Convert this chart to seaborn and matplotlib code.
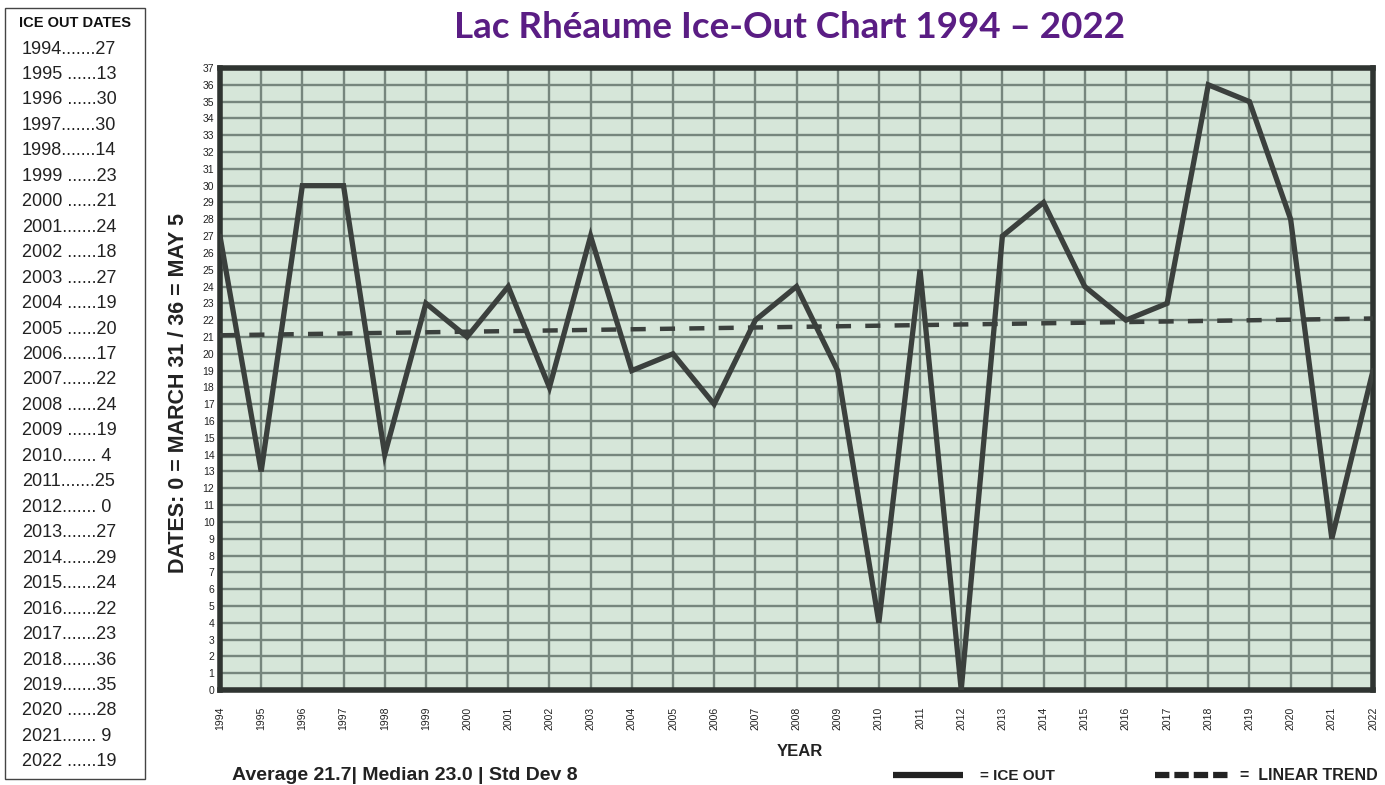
import matplotlib
matplotlib.use("Agg")
import matplotlib.pyplot as plt
import seaborn as sns
import pandas as pd
from matplotlib.patches import Rectangle
from matplotlib.lines import Line2D

years = list(range(1994, 2023))
ice_out = [27, 13, 30, 30, 14, 23, 21, 24, 18, 27, 19, 20, 17, 22, 24, 19,
           4, 25, 0, 27, 29, 24, 22, 23, 36, 35, 28, 9, 19]
trend_years = [1994, 2022]
trend_values = [21.1, 22.1]
table_labels = [
    "1994.......27", "1995 ......13", "1996 ......30", "1997.......30",
    "1998.......14", "1999 ......23", "2000 ......21", "2001.......24",
    "2002 ......18", "2003 ......27", "2004 ......19", "2005 ......20",
    "2006.......17", "2007.......22", "2008 ......24", "2009 ......19",
    "2010....... 4", "2011.......25", "2012....... 0", "2013.......27",
    "2014.......29", "2015.......24", "2016.......22", "2017.......23",
    "2018.......36", "2019.......35", "2020 ......28", "2021....... 9",
    "2022 ......19",
]
title = "Lac Rhéaume Ice-Out Chart 1994 – 2022"
ylabel = "DATES: 0 = MARCH 31 / 36 = MAY 5"
xlabel = "YEAR"
stats_text = "Average 21.7| Median 23.0 | Std Dev 8"

sns.set_theme(style="white")
plt.rcParams['font.family'] = ['Liberation Sans', 'DejaVu Sans']

W, H = 1385, 785
fig = plt.figure(figsize=(W / 100, H / 100), dpi=100)
ax = fig.add_axes([220 / W, 1 - 690 / H, (1373 - 220) / W, (690 - 68) / H])

line_col = "#3b403d"
grid_col = "#76867d"
ax.set_facecolor("#d6e6d9")

df = pd.DataFrame({"year": years, "ice_out": ice_out})
tdf = pd.DataFrame({"year": trend_years, "trend": trend_values})
sns.lineplot(data=df, x="year", y="ice_out", ax=ax, color=line_col, linewidth=3.8,
             solid_joinstyle="miter", zorder=5)
sns.lineplot(data=tdf, x="year", y="trend", ax=ax, color=line_col, linewidth=3.2,
             linestyle=(0, (3.4, 3.2)), dash_capstyle="butt", zorder=4)

ax.set_xlim(1994, 2022)
ax.set_ylim(0, 37)
ax.set_xticks(years)
ax.set_xticklabels([str(y) for y in years], rotation=90, fontsize=7.5)
ax.set_yticks(range(0, 38))
ax.set_yticklabels([str(v) for v in range(0, 38)], fontsize=7.5)
ax.tick_params(axis="both", length=0, pad=4, colors="#222222")
ax.tick_params(axis="x", pad=12)
ax.grid(True, color=grid_col, linewidth=1.7)
ax.set_axisbelow(True)
for s in ax.spines.values():
    s.set_color("#2f3431")
    s.set_linewidth(4)
ax.set_xlabel("")
ax.set_ylabel("")

fig.text(790 / W, 1 - 27 / H, title, ha="center", va="center", fontsize=26.5,
         fontweight="bold", color="#5a1d84", family=["Lato", "DejaVu Sans"])
fig.text(178 / W, 1 - 393 / H, ylabel, ha="center", va="center", rotation=90,
         fontsize=15.5, fontweight="bold", color="#222222")
fig.text(800 / W, 1 - 751 / H, xlabel, ha="center", va="center", fontsize=12,
         fontweight="bold", color="#222222")
fig.text(232 / W, 1 - 776 / H, stats_text, ha="left", va="center", fontsize=14,
         fontweight="bold", color="#222222")

# legend
fig.add_artist(Line2D([893 / W, 963 / W], [1 - 775 / H, 1 - 775 / H], color="#222222",
                      linewidth=4.5, solid_capstyle="butt"))
fig.text(980 / W, 1 - 776 / H, "= ICE OUT", ha="left", va="center", fontsize=11,
         fontweight="bold", color="#222222", family=["Liberation Sans Narrow", "Liberation Sans"])
fig.add_artist(Line2D([1155 / W, 1228 / W], [1 - 775 / H, 1 - 775 / H], color="#222222",
                      linewidth=4.5, linestyle=(0, (2.3, 0.8)), dash_capstyle="butt"))
fig.text(1240 / W, 1 - 776 / H, "=  LINEAR TREND", ha="left", va="center", fontsize=11.5,
         fontweight="bold", color="#222222", family=["Liberation Sans Narrow", "Liberation Sans"])

# left table box
fig.add_artist(Rectangle((5 / W, 1 - 779 / H), 140 / W, 771 / H, transform=fig.transFigure,
                         fill=False, edgecolor="#444444", linewidth=1.0))
fig.text(75 / W, 1 - 23 / H, "ICE OUT DATES", ha="center", va="center", fontsize=10.5,
         color="#111111", family=["Liberation Sans Narrow", "Liberation Sans"], fontweight="bold")
for i, lab in enumerate(table_labels):
    fig.text(22 / W, 1 - (49 + i * 25.46) / H, lab, ha="left", va="center", fontsize=13,
             color="#222222")

fig.savefig("out.png", dpi=100)
